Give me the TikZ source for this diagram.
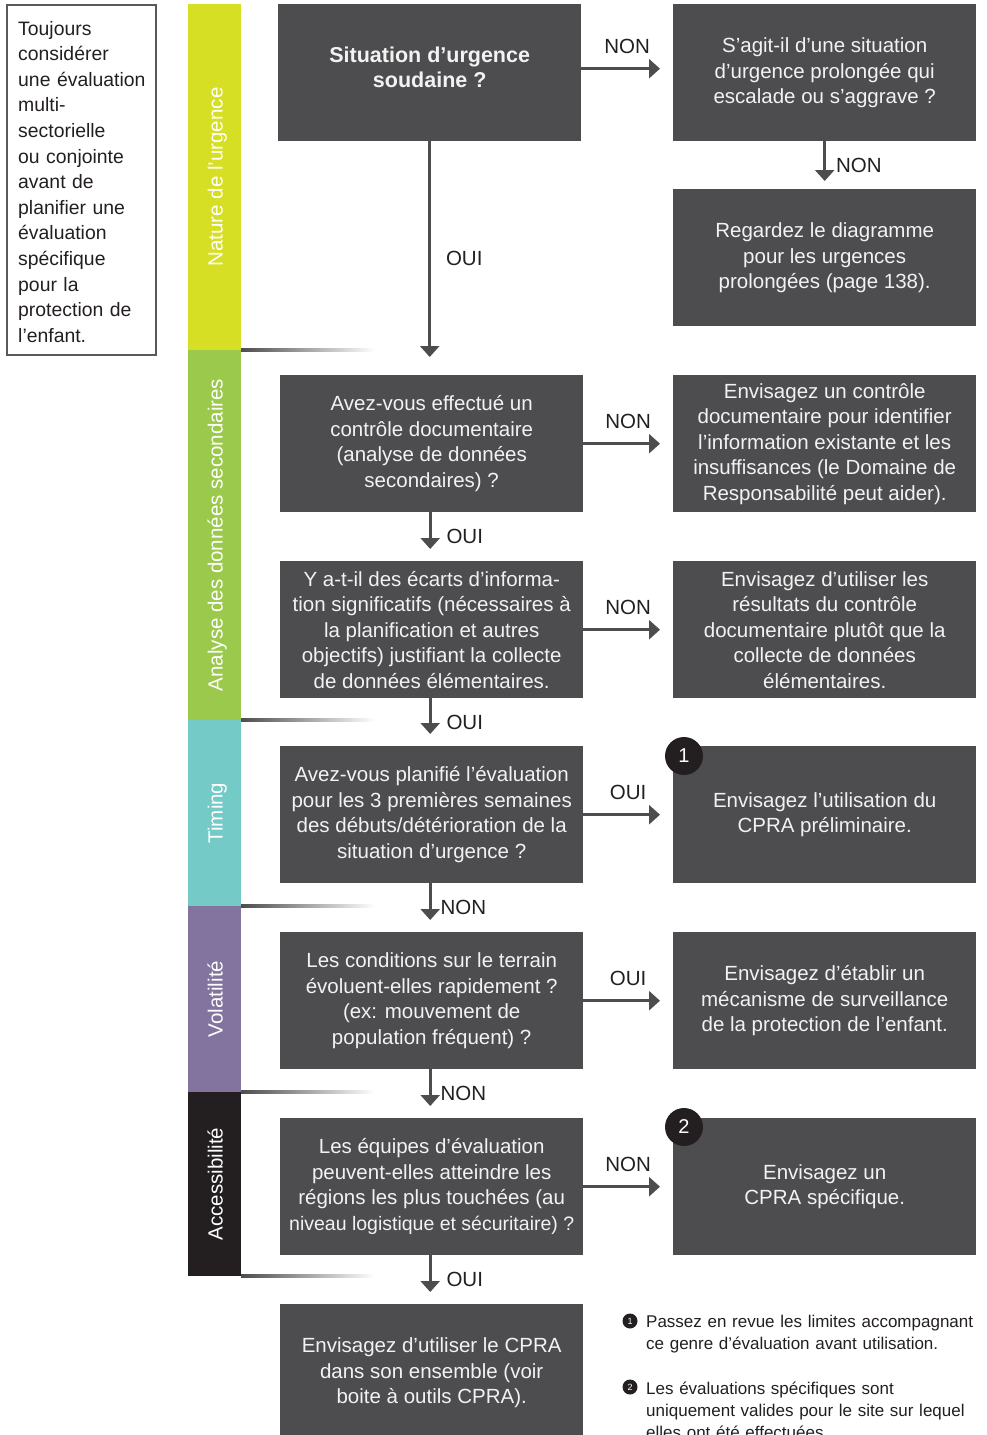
\documentclass[tikz,border=0pt]{standalone}
\usepackage{fontspec}
\setmainfont{Liberation Sans}
\usetikzlibrary{arrows.meta}
\definecolor{boxgray}{HTML}{4D4D4F}
\definecolor{inkc}{HTML}{231F20}
\definecolor{bandA}{HTML}{D6DF23}
\definecolor{bandB}{HTML}{9BC94C}
\definecolor{bandC}{HTML}{73CAC7}
\definecolor{bandD}{HTML}{82749E}
\definecolor{bandE}{HTML}{231F20}
\definecolor{txtc}{HTML}{F2F2F2}
\definecolor{framec}{HTML}{58595B}
\tikzset{
 fbox/.style={fill=boxgray,text=txtc,minimum width=303pt,minimum height=137pt,anchor=north west,align=center,inner sep=0pt,font=\fontsize{20.5}{25.5}\selectfont},
 arr/.style={draw=boxgray,line width=2.6pt,-{Triangle[width=19pt,length=11pt]}},
 lbl/.style={text=inkc,font=\fontsize{20.5}{24}\selectfont,inner sep=0pt},
 bandlbl/.style={text=white,rotate=90,anchor=base,font=\fontsize{20.5}{24}\selectfont,inner sep=0pt},
 numc/.style={circle,fill=inkc,text=white,minimum size=38pt,inner sep=0pt,font=\fontsize{20}{24}\selectfont},
 fnc/.style={circle,fill=inkc,text=white,minimum size=15pt,inner sep=0pt,font=\fontsize{9}{9}\selectfont},
 fntext/.style={text=inkc,anchor=base west,text width=345pt,align=left,inner sep=0pt,font=\fontsize{17}{22}\selectfont},
 sepline/.style={left color=black!70,right color=white},
}
\begin{document}
\begin{tikzpicture}[x=1pt,y=-1pt]
\useasboundingbox (0,0) rectangle (987,1435);

% note box
\draw[draw=framec,line width=2.5pt] (7,5) rectangle (156,355);
\node[text=inkc,anchor=base west,text width=136pt,align=left,inner sep=0pt,font=\fontsize{19.4}{25.6}\selectfont] (note) at (18,35)
 {Toujours\\considérer\\une évaluation\\multi-\\sectorielle\\ou conjointe\\avant de\\planifier une\\évaluation\\spécifique\\pour la\\protection de\\l’enfant.};

% bands
\fill[bandA] (188,4) rectangle (241,350);
\fill[bandB] (188,350) rectangle (241,720);
\fill[bandC] (188,720) rectangle (241,906);
\fill[bandD] (188,906) rectangle (241,1092);
\fill[bandE] (188,1092) rectangle (241,1276);
\node[bandlbl] (lA) at (222.5,177) {Nature de l’urgence};
\node[bandlbl] (lB) at (222.5,535) {Analyse des données secondaires};
\node[bandlbl] (lC) at (222.5,813) {Timing};
\node[bandlbl] (lD) at (222.5,999) {Volatilité};
\node[bandlbl] (lE) at (222.5,1184) {Accessibilité};

% separator lines
\shade[sepline] (241,348.5) rectangle (375,351.5);
\shade[sepline] (241,718.5) rectangle (375,721.5);
\shade[sepline] (241,904.5) rectangle (375,907.5);
\shade[sepline] (241,1090.5) rectangle (375,1093.5);
\shade[sepline] (241,1274) rectangle (375,1277);

% boxes
\node[fbox,font=\bfseries\fontsize{21.5}{25.5}\selectfont,text depth=11pt] (b1) at (278,4) {Situation d’urgence\\soudaine ?};
\node[fbox] (r1) at (673,4) {S’agit-il d’une situation\\d’urgence prolongée qui\\escalade ou s’aggrave ?};
\node[fbox] (r1b) at (673,189) {Regardez le diagramme\\pour les urgences\\prolongées (page 138).};
\node[fbox] (b2) at (280,375) {Avez-vous effectué un\\contrôle documentaire\\(analyse de données\\secondaires) ?};
\node[fbox] (r2) at (673,375) {Envisagez un contrôle\\documentaire pour identifier\\l’information existante et les\\insuffisances (le Domaine de\\Responsabilité peut aider).};
\node[fbox] (b3) at (280,561) {Y a-t-il des écarts d’informa-\\tion significatifs (nécessaires à\\la planification et autres\\objectifs) justifiant la collecte\\de données élémentaires.};
\node[fbox] (r3) at (673,561) {Envisagez d’utiliser les\\résultats du contrôle\\documentaire plutôt que la\\collecte de données\\élémentaires.};
\node[fbox] (b4) at (280,746) {Avez-vous planifié l’évaluation\\pour les 3 premières semaines\\des débuts/détérioration de la\\situation d’urgence ?};
\node[fbox] (r4) at (673,746) {Envisagez l’utilisation du\\CPRA préliminaire.};
\node[fbox] (b5) at (280,932) {Les conditions sur le terrain\\évoluent-elles rapidement ?\\(ex: mouvement de\\population fréquent) ?};
\node[fbox] (r5) at (673,932) {Envisagez d’établir un\\mécanisme de surveillance\\de la protection de l’enfant.};
\node[fbox] (b6) at (280,1118) {Les équipes d’évaluation\\peuvent-elles atteindre les\\régions les plus touchées (au\\{\fontsize{19.5}{25.5}\selectfont niveau logistique et sécuritaire) ?}};
\node[fbox] (r6) at (673,1118) {Envisagez un\\CPRA spécifique.};
\node[fbox] (b7) at (280,1304) {Envisagez d’utiliser le CPRA\\dans son ensemble (voir\\boite à outils CPRA).};

% numbered circles
\node[numc] (c1) at (684,756) {1};
\node[numc] (c2) at (684,1127) {2};

% horizontal arrows
\draw[arr,shorten >=13pt] ([yshift=4pt]b1.east) -- node[lbl,above=14pt]{NON} ([yshift=4pt]r1.west);
\draw[arr,shorten >=13pt] (b2.east) -- node[lbl,above=14pt]{NON} (r2.west);
\draw[arr,shorten >=13pt] (b3.east) -- node[lbl,above=14pt]{NON} (r3.west);
\draw[arr,shorten >=13pt] (b4.east) -- node[lbl,above=14pt]{OUI} (r4.west);
\draw[arr,shorten >=13pt] (b5.east) -- node[lbl,above=14pt]{OUI} (r5.west);
\draw[arr,shorten >=13pt] (b6.east) -- node[lbl,above=14pt]{NON} (r6.west);

% vertical arrows
\draw[arr,shorten >=18pt] (b1.south) -- node[lbl,right=15pt]{OUI} (b1.south |- b2.north);
\draw[arr,shorten >=12pt] ([xshift=-1.5pt]b2.south) -- node[lbl,right=15pt]{OUI} ([xshift=-1.5pt]b3.north);
\draw[arr,shorten >=12pt] ([xshift=-1.5pt]b3.south) -- node[lbl,right=15pt]{OUI} ([xshift=-1.5pt]b4.north);
\draw[arr,shorten >=12pt] ([xshift=-1.5pt]b4.south) -- node[lbl,right=9pt]{NON} ([xshift=-1.5pt]b5.north);
\draw[arr,shorten >=12pt] ([xshift=-1.5pt]b5.south) -- node[lbl,right=9pt]{NON} ([xshift=-1.5pt]b6.north);
\draw[arr,shorten >=12pt] ([xshift=-1.5pt]b6.south) -- node[lbl,right=15pt]{OUI} ([xshift=-1.5pt]b7.north);
\draw[arr,shorten >=8pt] (r1.south) -- node[lbl,right=10pt]{NON} (r1b.north);

% footnotes
\node[fnc] (f1) at (630,1321) {1};
\node[fntext] (t1) at (646,1327) {Passez en revue les limites accompagnant\\ce genre d’évaluation avant utilisation.};
\node[fnc] (f2) at (630,1387) {2};
\node[fntext] (t2) at (646,1394) {Les évaluations spécifiques sont\\uniquement valides pour le site sur lequel\\elles ont été effectuées.};
\end{tikzpicture}
\end{document}
